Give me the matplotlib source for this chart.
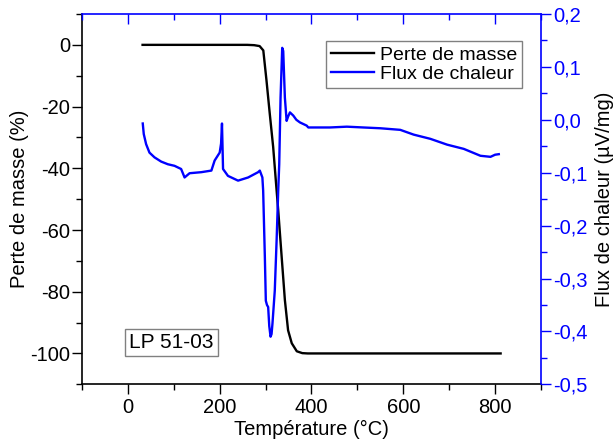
import numpy as np
import matplotlib.pyplot as plt
from matplotlib.ticker import MultipleLocator, FuncFormatter

plt.rcParams['font.family'] = ['Liberation Sans', 'DejaVu Sans']
plt.rcParams['axes.unicode_minus'] = False

# mass loss curve (TG), % vs temperature
temp_tg = [32, 100, 200, 260, 275, 287, 295, 302, 309, 316.5, 324, 327.5, 335, 342, 349,
           357, 368, 380, 392, 450, 600, 700, 812]
mass_tg = [0, 0, 0, 0, -0.1, -0.4, -1.8, -11.6, -22.2, -33.1, -47.2, -53.6, -68.7, -82.7,
           -92.5, -96.7, -99.3, -99.9, -100, -100, -100, -100, -100]

# heat flow curve (DSC), uV/mg vs temperature
temp_dsc = [32.4, 34.6, 39.7, 47, 58, 72.5, 87, 101.6, 116, 123.5, 134.4, 160, 181.9, 189,
            200, 203, 205, 207.3, 218, 240, 262, 283.7, 287.4, 293, 294.7, 298.4, 300.5,
            303, 305.6, 308, 310.8, 313, 315, 320, 324, 327.5, 329.7, 332.6, 336.2, 338.4,
            342, 345.8, 349, 353, 360.3, 367, 374.9, 389.5, 393, 440, 477, 513, 550,
            593.4, 622.5, 659, 695.5, 731.8, 768, 790, 800, 808]
flux_dsc = [-0.007, -0.027, -0.046, -0.062, -0.071, -0.079, -0.084, -0.087, -0.093, -0.109,
            -0.101, -0.099, -0.096, -0.077, -0.062, -0.045, -0.007, -0.093, -0.106, -0.115,
            -0.109, -0.099, -0.096, -0.109, -0.134, -0.26, -0.342, -0.35, -0.354, -0.39,
            -0.41, -0.405, -0.385, -0.323, -0.228, -0.134, -0.084, 0.042, 0.136, 0.130,
            0.042, -0.002, 0.006, 0.014, 0.008, 0.0, -0.005, -0.011, -0.0145, -0.0145,
            -0.013, -0.0145, -0.016, -0.019, -0.028, -0.036, -0.047, -0.055, -0.068,
            -0.070, -0.066, -0.065]

fig = plt.figure(figsize=(6.15, 4.43), dpi=100)
ax = fig.add_axes([0.1333, 0.1325, 0.7464, 0.8359])
ax2 = ax.twinx()

l1, = ax.plot(temp_tg, mass_tg, color='black', lw=1.7, label='Perte de masse')
l2, = ax2.plot(temp_dsc, flux_dsc, color='#0000ff', lw=1.7, label='Flux de chaleur')

ax.set_xlim(-100, 900)
ax.set_ylim(-110, 10)
ax2.set_ylim(-0.5, 0.2)

fs = 14.5
ax.xaxis.set_major_locator(MultipleLocator(200))
ax.xaxis.set_minor_locator(MultipleLocator(100))
ax.yaxis.set_major_locator(MultipleLocator(20))
ax.yaxis.set_minor_locator(MultipleLocator(10))
ax2.yaxis.set_major_locator(MultipleLocator(0.1))
ax2.yaxis.set_minor_locator(MultipleLocator(0.05))
ax2.yaxis.set_major_formatter(FuncFormatter(lambda v, p: ('%.1f' % v).replace('.', ',').replace('-0,0', '0,0')))

ax.tick_params(axis='both', which='major', direction='out', length=7, width=1, labelsize=fs)
ax.tick_params(axis='both', which='minor', direction='out', length=4, width=1)
ax.tick_params(axis='y', which='major', pad=1.5)
ax.tick_params(axis='x', which='major', pad=3)
ax.tick_params(axis='x', top=False)
ax.tick_params(axis='y', right=False)

ax2.tick_params(axis='y', which='major', direction='out', length=7, width=1, labelsize=fs,
                colors='#0000ff', pad=2)
ax2.tick_params(axis='y', which='minor', direction='out', length=4, width=1, colors='#0000ff')
ax2.xaxis.set_visible(True)
ax2.tick_params(axis='x', which='both', bottom=False, labelbottom=False, top=True,
                labeltop=False, direction='in', color='#0000ff', width=1)
ax2.tick_params(axis='x', which='major', length=7)
ax2.tick_params(axis='x', which='minor', length=4)

for s in ['top', 'right']:
    ax.spines[s].set_visible(False)
for s in ['left', 'bottom']:
    ax2.spines[s].set_visible(False)
    ax.spines[s].set_linewidth(1.2)
for s in ['top', 'right']:
    ax2.spines[s].set_color('#0000ff')
    ax2.spines[s].set_linewidth(1.2)

ax.set_xlabel('Température (°C)', fontsize=fs, labelpad=2)
ax.set_ylabel('Perte de masse (%)', fontsize=fs)
ax2.set_ylabel('Flux de chaleur (µV/mg)', fontsize=fs)
ax.yaxis.set_label_coords(-0.1155, 0.5)
ax2.yaxis.set_label_coords(1.118, 0.5)

leg = ax2.legend([l1, l2], ['Perte de masse', 'Flux de chaleur'], loc='upper right',
                 bbox_to_anchor=(0.9586, 0.927), borderaxespad=0, fontsize=14,
                 fancybox=False, framealpha=1, edgecolor='#808080', handlelength=2.2,
                 labelspacing=0.1, borderpad=0.25, handletextpad=0.3)
leg.get_frame().set_linewidth(1)

ax.text(95, -96.4, 'LP 51-03', fontsize=15, ha='center', va='center',
        bbox=dict(boxstyle='square,pad=0.2', fc='white', ec='#808080', lw=1))

fig.savefig('out.png', dpi=100)
